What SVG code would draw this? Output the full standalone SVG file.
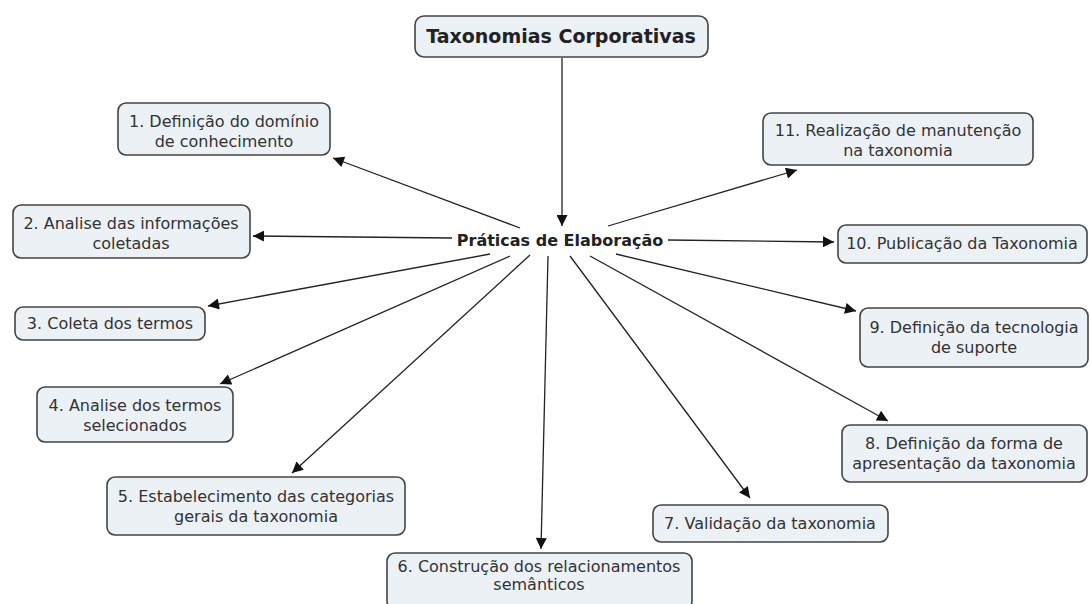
<svg xmlns="http://www.w3.org/2000/svg" width="1090" height="604" viewBox="0 0 1090 604">
<defs>
<marker id="ah" viewBox="0 0 10 10" refX="10" refY="5" markerWidth="15" markerHeight="11" markerUnits="userSpaceOnUse" orient="auto"><path d="M0,0 L10,5 L0,10 z" fill="#111"/></marker>
<style>
.box{fill:#ecf1f5;stroke:#444;stroke-width:1.6}
.t{font-family:"DejaVu Sans",Verdana,sans-serif;font-size:16px;fill:#333;text-anchor:middle}
.b{font-family:"DejaVu Sans",Verdana,sans-serif;font-weight:bold;fill:#222;text-anchor:middle}
.c{stroke:#222;stroke-width:1.3;fill:none;marker-end:url(#ah)}
</style>
</defs>
<rect width="1090" height="604" fill="#fff"/>
<g id="connectors">
<line class="c" x1="562" y1="58" x2="562" y2="226"/>
<line class="c" x1="520" y1="228" x2="333" y2="158"/>
<line class="c" x1="452" y1="238" x2="253" y2="236"/>
<line class="c" x1="490" y1="254" x2="208" y2="306"/>
<line class="c" x1="510" y1="256" x2="220" y2="384"/>
<line class="c" x1="530" y1="255" x2="292" y2="473"/>
<line class="c" x1="548" y1="256" x2="541" y2="549"/>
<line class="c" x1="570" y1="256" x2="750" y2="498"/>
<line class="c" x1="590" y1="256" x2="888" y2="421"/>
<line class="c" x1="616" y1="254" x2="856" y2="311"/>
<line class="c" x1="668" y1="240" x2="834" y2="242"/>
<line class="c" x1="608" y1="226" x2="797" y2="170"/>
</g>
<g id="root"><rect class="box" x="415" y="16" width="293" height="41" rx="9"/><text class="b" x="561" y="43" font-size="19">Taxonomias Corporativas</text></g>
<g id="center"><text class="b" x="560" y="246" font-size="16">Práticas de Elaboração</text></g>
<g id="n1"><rect class="box" x="118" y="103" width="212" height="52" rx="8"/><text class="t" x="224" y="127">1. Definição do domínio</text><text class="t" x="224" y="147">de conhecimento</text></g>
<g id="n2"><rect class="box" x="13" y="205" width="237" height="53" rx="8"/><text class="t" x="131" y="229">2. Analise das informações</text><text class="t" x="131" y="249">coletadas</text></g>
<g id="n3"><rect class="box" x="15" y="307" width="190" height="33" rx="8"/><text class="t" x="110" y="329">3. Coleta dos termos</text></g>
<g id="n4"><rect class="box" x="37" y="387" width="196" height="55" rx="8"/><text class="t" x="135" y="411">4. Analise dos termos</text><text class="t" x="135" y="431">selecionados</text></g>
<g id="n5"><rect class="box" x="107" y="477" width="298" height="58" rx="8"/><text class="t" x="256" y="502">5. Estabelecimento das categorias</text><text class="t" x="256" y="522">gerais da taxonomia</text></g>
<g id="n6"><rect class="box" x="387" y="553" width="305" height="56" rx="8"/><text class="t" x="539" y="572">6. Construção dos relacionamentos</text><text class="t" x="539" y="590">semânticos</text></g>
<g id="n7"><rect class="box" x="653" y="505" width="235" height="37" rx="8"/><text class="t" x="770" y="529">7. Validação da taxonomia</text></g>
<g id="n8"><rect class="box" x="842" y="425" width="245" height="57" rx="8"/><text class="t" x="964" y="449">8. Definição da forma de</text><text class="t" x="964" y="469">apresentação da taxonomia</text></g>
<g id="n9"><rect class="box" x="860" y="308" width="228" height="59" rx="8"/><text class="t" x="974" y="333">9. Definição da tecnologia</text><text class="t" x="974" y="353">de suporte</text></g>
<g id="n10"><rect class="box" x="838" y="225" width="249" height="38" rx="8"/><text class="t" x="962" y="249">10. Publicação da Taxonomia</text></g>
<g id="n11"><rect class="box" x="763" y="113" width="270" height="52" rx="8"/><text class="t" x="898" y="136">11. Realização de manutenção</text><text class="t" x="898" y="156">na taxonomia</text></g>
</svg>
